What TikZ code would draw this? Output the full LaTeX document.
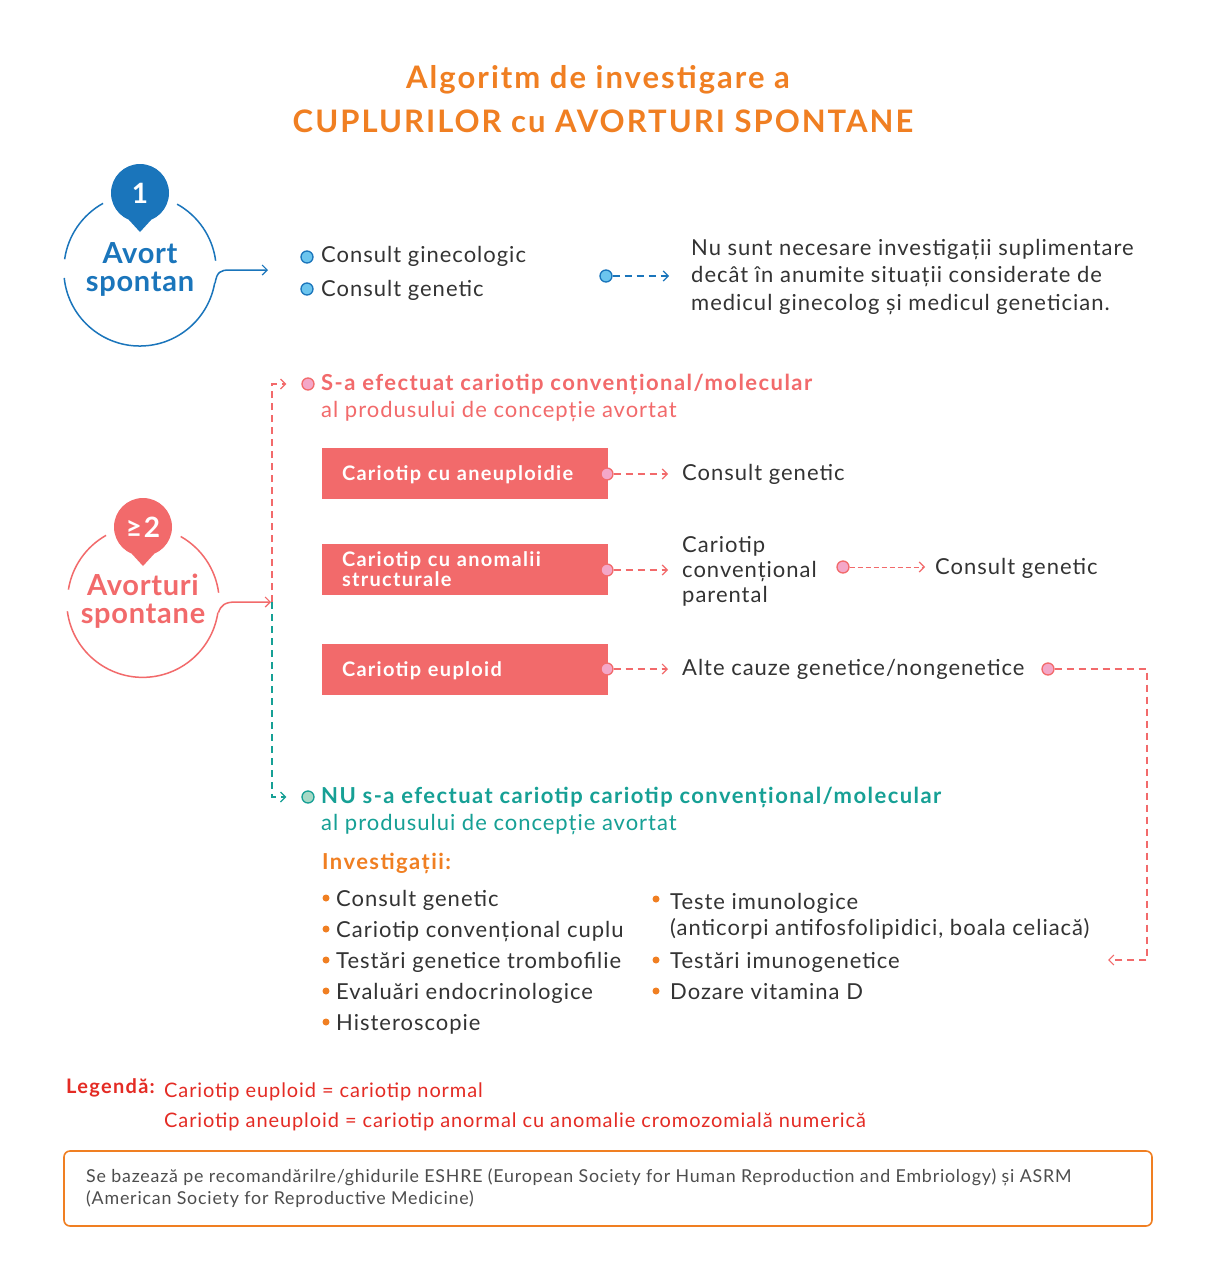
\documentclass[tikz,border=0pt]{standalone}
\usepackage{fontspec}
\setmainfont{Lato}[LetterSpace=4.5, BoldFeatures={LetterSpace=6.5}]
\newfontfamily\circfont{Lato}[BoldFeatures={LetterSpace=2.5}]
\usetikzlibrary{arrows.meta}
\definecolor{cblue}{HTML}{1A75BB}
\definecolor{clblue}{HTML}{6CC5EE}
\definecolor{ccoral}{HTML}{F26A6B}
\definecolor{cpink}{HTML}{F4A7C8}
\definecolor{cteal}{HTML}{16A095}
\definecolor{clteal}{HTML}{A6D9C6}
\definecolor{corange}{HTML}{F07F22}
\definecolor{cred}{HTML}{E42B24}
\definecolor{cdark}{HTML}{333333}
\definecolor{cgrey}{HTML}{4D4D4D}
\newcommand{\fs}[1]{\fontsize{#1}{#1}\selectfont}
\begin{document}
\begin{tikzpicture}[x=1pt,y=-1pt,
  txt/.style={anchor=mid west, inner sep=0pt, yshift=-5pt, font=\fs{22}, text=cdark},
  tipc/.style={-{Straight Barb[length=5pt,width=10pt,line width=1.2pt]}},
  bluedot/.style={circle, draw=cblue, line width=1.3pt, fill=clblue, minimum size=12pt, inner sep=0pt},
  pinkdot/.style={circle, draw=ccoral, line width=1.3pt, fill=cpink, minimum size=12pt, inner sep=0pt},
  tealdot/.style={circle, draw=cteal, line width=1.3pt, fill=clteal, minimum size=12pt, inner sep=0pt},
  obul/.style={circle, fill=corange, minimum size=7pt, inner sep=0pt},
  kbox/.style={fill=ccoral, minimum height=51pt, text width=246pt, inner xsep=20pt, inner ysep=0pt, align=left, text=white, font=\bfseries\fontsize{20}{20.5}\selectfont},
  kone/.style={text height=15pt, text depth=1pt},
  ring/.style={line width=1.5pt},
  ctext/.style={font=\circfont\bfseries\fontsize{29}{28}\selectfont, align=center, inner sep=0pt},
  cdash/.style={ccoral, line width=1.3pt, dash pattern=on 7pt off 5pt},
  ]
\useasboundingbox (0,0) rectangle (1206,1277);
\fill[white] (0,0) rectangle (1206,1277);

% title
\node[font=\bfseries\fs{31}, text=corange, inner sep=0pt] (title1) at (598,80) {Algoritm de investigare a};
\node[font=\bfseries\fs{31}, text=corange, inner sep=0pt] (title2) at (603,121) {CUPLURILOR cu AVORTURI SPONTANE};

% ===== circle 1 =====
\node[circle, minimum size=152pt, inner sep=0pt] (c1) at (140,270) {};
\draw[cblue, ring] (c1.7.5) arc[start angle=-7.5, end angle=-61, radius=76];
\draw[cblue, ring] (c1.119) arc[start angle=-119, end angle=-172, radius=76];
\draw[cblue, ring] (c1.186) arc[start angle=-186, end angle=-350, radius=76];
\node[circle, fill=cblue, minimum size=58pt, inner sep=0pt, text=white, font=\bfseries\fs{28}] (b1) at (140,193) {1};
\fill[cblue] (b1.-112) -- (140,232) -- (b1.-68) -- cycle;
\node[ctext, text=cblue] (c1t) at (140,269) {Avort\\spontan};
\coordinate (a1) at (268,270);
\draw[cblue, ring, tipc] (c1.-10) .. controls (217,272) and (220,270) .. (230,270) -- (a1);

\node[bluedot] (bd1) at (307,257) {};
\node[bluedot] (bd2) at (307,289) {};
\node[txt] (s1) at (321,255) {Consult ginecologic};
\node[txt] (s2) at (321,289) {Consult genetic};
\node[bluedot] (bd3) at (606,276) {};
\node[txt] (n1) at (691,248) {Nu sunt necesare investigații suplimentare};
\node[txt] (n2) at (691,275) {decât în anumite situații considerate de};
\node[txt] (n3) at (691,303) {medicul ginecolog și medicul genetician.};
\draw[cblue, line width=1.3pt, dash pattern=on 7pt off 5pt, tipc, shorten >=22pt] (bd3) -- (bd3 -| n2.west);

% ===== circle 2 =====
\node[circle, minimum size=152pt, inner sep=0pt] (c2) at (143,602) {};
\draw[ccoral, ring] (c2.7.5) arc[start angle=-7.5, end angle=-60.5, radius=76];
\draw[ccoral, ring] (c2.119.5) arc[start angle=-119.5, end angle=-171, radius=76];
\draw[ccoral, ring] (c2.187.5) arc[start angle=-187.5, end angle=-351.5, radius=76];
\node[circle, fill=ccoral, minimum size=58pt, inner sep=0pt, text=white, font=\bfseries\fs{28}] (b2) at (143,527) {≥2};
\fill[ccoral] (b2.-112) -- (143,566) -- (b2.-68) -- cycle;
\node[ctext, text=ccoral] (c2t) at (143,601) {Avorturi\\spontane};
\coordinate (vmid) at (272,602);
\draw[ccoral, ring, tipc] (c2.-8.5) .. controls (221,605) and (225,602) .. (236,602) -- ([xshift=-1pt]vmid);

% vertical branches
\node[pinkdot] (pd0) at (308,384) {};
\node[tealdot] (td0) at (308,797) {};
\coordinate (vtop) at (272,384);
\coordinate (vbot) at (272,797);
\draw[cdash, tipc, shorten >=15pt] (vmid) -- (vtop) -- (pd0);
\draw[cteal, line width=1.3pt, dash pattern=on 7pt off 5pt, tipc, shorten >=15pt] (vmid) -- (vbot) -- (td0);

% red header
\node[txt, font=\bfseries\fs{22}, text=ccoral] (h1) at (321,383) {S-a efectuat cariotip convențional/molecular};
\node[txt, font=\fs{22}, text=ccoral] (h2) at (321,410) {al produsului de concepție avortat};

% boxes
\node[kbox, kone] (k1) at (465,473) {Cariotip cu aneuploidie};
\node[kbox] (k2) at (465,569) {Cariotip cu anomalii\\structurale};
\node[kbox, kone] (k3) at (465,669) {Cariotip euploid};
\node[pinkdot] (e1) at (607,474) {};
\node[pinkdot] (e2) at (607,570) {};
\node[pinkdot] (e3) at (607,669) {};

\node[txt] (t1) at (682,473) {Consult genetic};
\node[txt] (t2a) at (682,545) {Cariotip};
\node[txt] (t2b) at (682,570) {convențional};
\node[txt] (t2c) at (682,595) {parental};
\node[txt] (t3) at (682,668) {Alte cauze genetice/nongenetice};
\draw[cdash, tipc, shorten >=14pt] (e1) -- (e1 -| t1.west);
\draw[cdash, tipc, shorten >=14pt] (e2) -- (e2 -| t2b.west);
\draw[cdash, tipc, shorten >=14pt] (e3) -- (e3 -| t3.west);

\node[pinkdot] (e4) at (843,567) {};
\node[txt] (t4) at (935,567) {Consult genetic};
\draw[ccoral, line width=1pt, dash pattern=on 5pt off 3pt, tipc, shorten >=10pt] (e4) -- (e4 -| t4.west);

\node[pinkdot] (e5) at (1048,669) {};
\coordinate (r1) at (1147,669);
\coordinate (r2) at (1147,960);
\coordinate (r3) at (1108,960);
\draw[cdash, tipc] (e5) -- (r1) -- (r2) -- (r3);

% teal header
\node[txt, font=\bfseries\fs{22}, text=cteal] (g1) at (321,796) {NU s-a efectuat cariotip cariotip convențional/molecular};
\node[txt, font=\fs{22}, text=cteal] (g2) at (321,823) {al produsului de concepție avortat};

\node[txt, font=\bfseries\fs{22}, text=corange] (inv) at (322,862) {Investigații:};

% left list
\foreach \y/\t [count=\i] in {899/Consult genetic, 930/Cariotip convențional cuplu, 961/Testări genetice trombofilie, 992/Evaluări endocrinologice, 1023/Histeroscopie}{
  \node[obul] (lb\i) at (326,\y-1) {};
  \node[txt] (lt\i) at (336,\y) {\t};
}
% right list
\node[obul] (rb1) at (656,899) {};
\node[txt] (rt1) at (670,902) {Teste imunologice};
\node[txt] (rt1b) at (670,928) {(anticorpi antifosfolipidici, boala celiacă)};
\node[obul] (rb2) at (656,960) {};
\node[txt] (rt2) at (670,961) {Testări imunogenetice};
\node[obul] (rb3) at (656,991) {};
\node[txt] (rt3) at (670,992) {Dozare vitamina D};

% legend
\node[txt, font=\bfseries\fs{20}, text=cred] (lg) at (66,1086) {Legendă:};
\node[txt, font=\fs{20}, text=cred] (lg1) at (164,1090) {Cariotip euploid = cariotip normal};
\node[txt, font=\fs{20}, text=cred] (lg2) at (164,1120) {Cariotip aneuploid = cariotip anormal cu anomalie cromozomială numerică};

% footer
\node[draw=corange, line width=1.6pt, rounded corners=6pt, minimum width=1088pt, minimum height=75pt, inner sep=0pt] (fb) at (608,1188.5) {};
\node[txt, font=\fs{17.8}, text=cgrey, yshift=1pt] (f1) at (86,1176) {Se bazează pe recomandărilre/ghidurile ESHRE (European Society for Human Reproduction and Embriology) și ASRM};
\node[txt, font=\fs{17.8}, text=cgrey, yshift=1pt] (f2) at (86,1198) {(American Society for Reproductive Medicine)};
\end{tikzpicture}
\end{document}
